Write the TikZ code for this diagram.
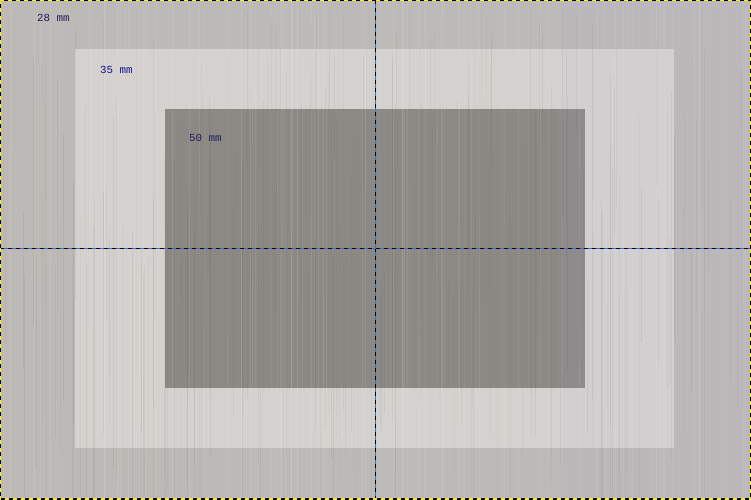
\documentclass[tikz,border=0pt]{standalone}
\usepackage{fontspec}
\setmonofont{Liberation Mono}
\begin{document}
\begin{tikzpicture}[x=1pt,y=-1pt,
  lbl/.style={anchor=west,inner sep=0pt,font=\ttfamily\fontsize{10.8}{13}\selectfont},
  guidebase/.style={line width=1.2pt,gblue},
  guide/.style={line width=1.2pt,black,dash pattern=on 4pt off 4pt},
  fr/.style={line width=2pt,dash pattern=on 4pt off 4pt}]
\definecolor{bgc}{RGB}{188,185,182}
\definecolor{midc}{RGB}{212,209,206}
\definecolor{innc}{RGB}{140,137,133}
\definecolor{navy}{RGB}{30,30,90}
\definecolor{gblue}{RGB}{40,120,220}
\useasboundingbox (0,0) rectangle (751,499);
\fill[bgc] (0,0) rectangle (751,499);
\fill[midc] (75,49) rectangle (674,448);
\fill[innc] (165,109) rectangle (585,388);
% wood texture
\pgfmathsetseed{7}
\foreach \i in {1,...,220}{
  \pgfmathsetmacro{\xx}{rnd*751}
  \pgfmathsetmacro{\ya}{rnd*300}
  \pgfmathsetmacro{\yb}{\ya+100+rnd*300}
  \pgfmathsetmacro{\op}{0.02+rnd*0.04}
  \draw[line width=0.5pt,black!70!brown,opacity=\op] (\xx,\ya) -- (\xx,\yb);
}
\foreach \i in {1,...,120}{
  \pgfmathsetmacro{\xx}{rnd*751}
  \pgfmathsetmacro{\op}{0.03+rnd*0.06}
  \draw[line width=0.8pt,white,opacity=\op] (\xx,0) -- (\xx,499);
}
\fill[blue!30,opacity=0.06] (560,0) rectangle (751,499);
% guides
\coordinate (vt) at (375.5,0);
\coordinate (vb) at (375.5,499);
\coordinate (hl) at (0,248.5);
\coordinate (hr) at (751,248.5);
\draw[guidebase] (vt) -- (vb);
\draw[guide] (vt) -- (vb);
\draw[guidebase] (hl) -- (hr);
\draw[guide] (hl) -- (hr);
% labels
\node[lbl,text=navy] (l28) at (37,18) {28 mm};
\node[lbl,text=navy!70!blue] (l35) at (100,70) {35 mm};
\node[lbl,text=navy] (l50) at (189,138) {50 mm};
% frame
\draw[fr,yellow] (0,0) rectangle (751,499);
\draw[fr,black,dash phase=4pt] (0,0) rectangle (751,499);
\end{tikzpicture}
\end{document}
